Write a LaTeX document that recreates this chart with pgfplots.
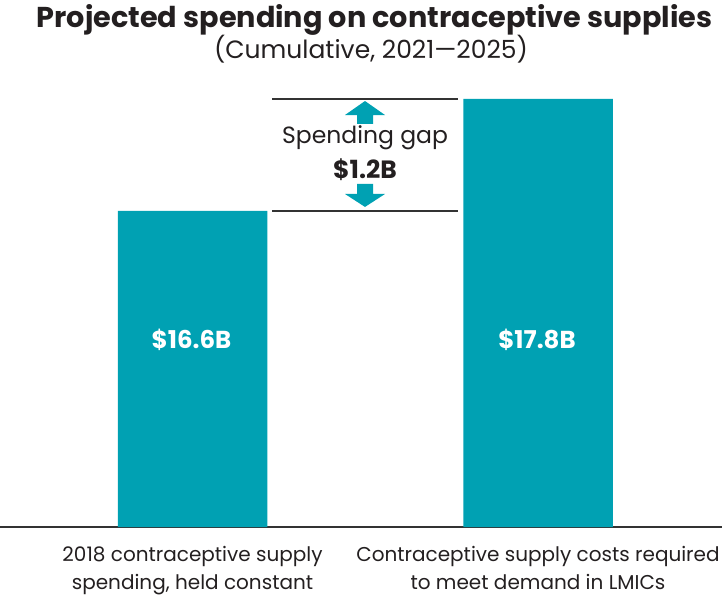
\documentclass[border=0pt]{standalone}
\usepackage{pgfplots}
\pgfplotsset{compat=1.18}
\usepackage{fontspec}
\setmainfont{Poppins}
\definecolor{teal}{HTML}{00A1B3}
\definecolor{txt}{HTML}{231F20}
\definecolor{axl}{HTML}{333333}
\begin{document}
\begin{tikzpicture}
\begin{axis}[
  scale only axis, width=722pt, height=446.7pt,
  xmin=0, xmax=722, ymin=13.214, ymax=18,
  axis x line*=bottom, axis y line=none,
  axis line style={-, axl, line width=1.6pt},
  xtick={192.5,538}, major tick length=0pt,
  xticklabels={{2018 contraceptive supply\\spending, held constant},{Contraceptive supply costs required\\to meet demand in LMICs}},
  xticklabel style={align=center, font=\fontsize{20}{28}\selectfont, text=txt, yshift=-16pt},
  ytick=\empty,
  clip=false,
]
\addplot[ybar, bar width=149.5, fill=teal, draw=none] coordinates {(192.5,16.6) (538,17.8)};
% gap lines
\draw[axl, line width=1.6pt] (axis cs:272,16.6) -- (axis cs:458,16.6);
\draw[axl, line width=1.6pt] (axis cs:272,17.8) -- (axis cs:458,17.8);
% arrows
\fill[teal] (axis cs:365,17.778) -- (axis cs:385,17.628) -- (axis cs:373,17.628) -- (axis cs:373,17.532) -- (axis cs:357,17.532) -- (axis cs:357,17.628) -- (axis cs:345,17.628) -- cycle;
\fill[teal] (axis cs:365,16.643) -- (axis cs:385,16.782) -- (axis cs:373,16.782) -- (axis cs:373,16.889) -- (axis cs:357,16.889) -- (axis cs:357,16.782) -- (axis cs:345,16.782) -- cycle;
\node[text=txt, font=\fontsize{23.5}{26}\selectfont] at (axis cs:365,17.382) {Spending gap};
\node[text=txt, font=\fontsize{25}{28}\selectfont\bfseries] at (axis cs:365,17.039) {\$1.2B};
\node[text=white, font=\fontsize{24.5}{28}\selectfont\bfseries] at (axis cs:191.5,15.218) {\$16.6B};
\node[text=white, font=\fontsize{24.5}{28}\selectfont\bfseries] at (axis cs:537,15.218) {\$17.8B};
\node[text=txt, font=\fontsize{28.7}{32}\selectfont\bfseries] at (axis cs:374.5,18.646) {Projected spending on contraceptive supplies};
\node[text=txt, font=\fontsize{25}{28}\selectfont] at (axis cs:371,18.336) {(Cumulative, 2021—2025)};
\end{axis}
\pgfresetboundingbox
\path[use as bounding box] (current axis.south west) ++(0,-73pt) rectangle ++(722pt,600pt);
\end{tikzpicture}
\end{document}
